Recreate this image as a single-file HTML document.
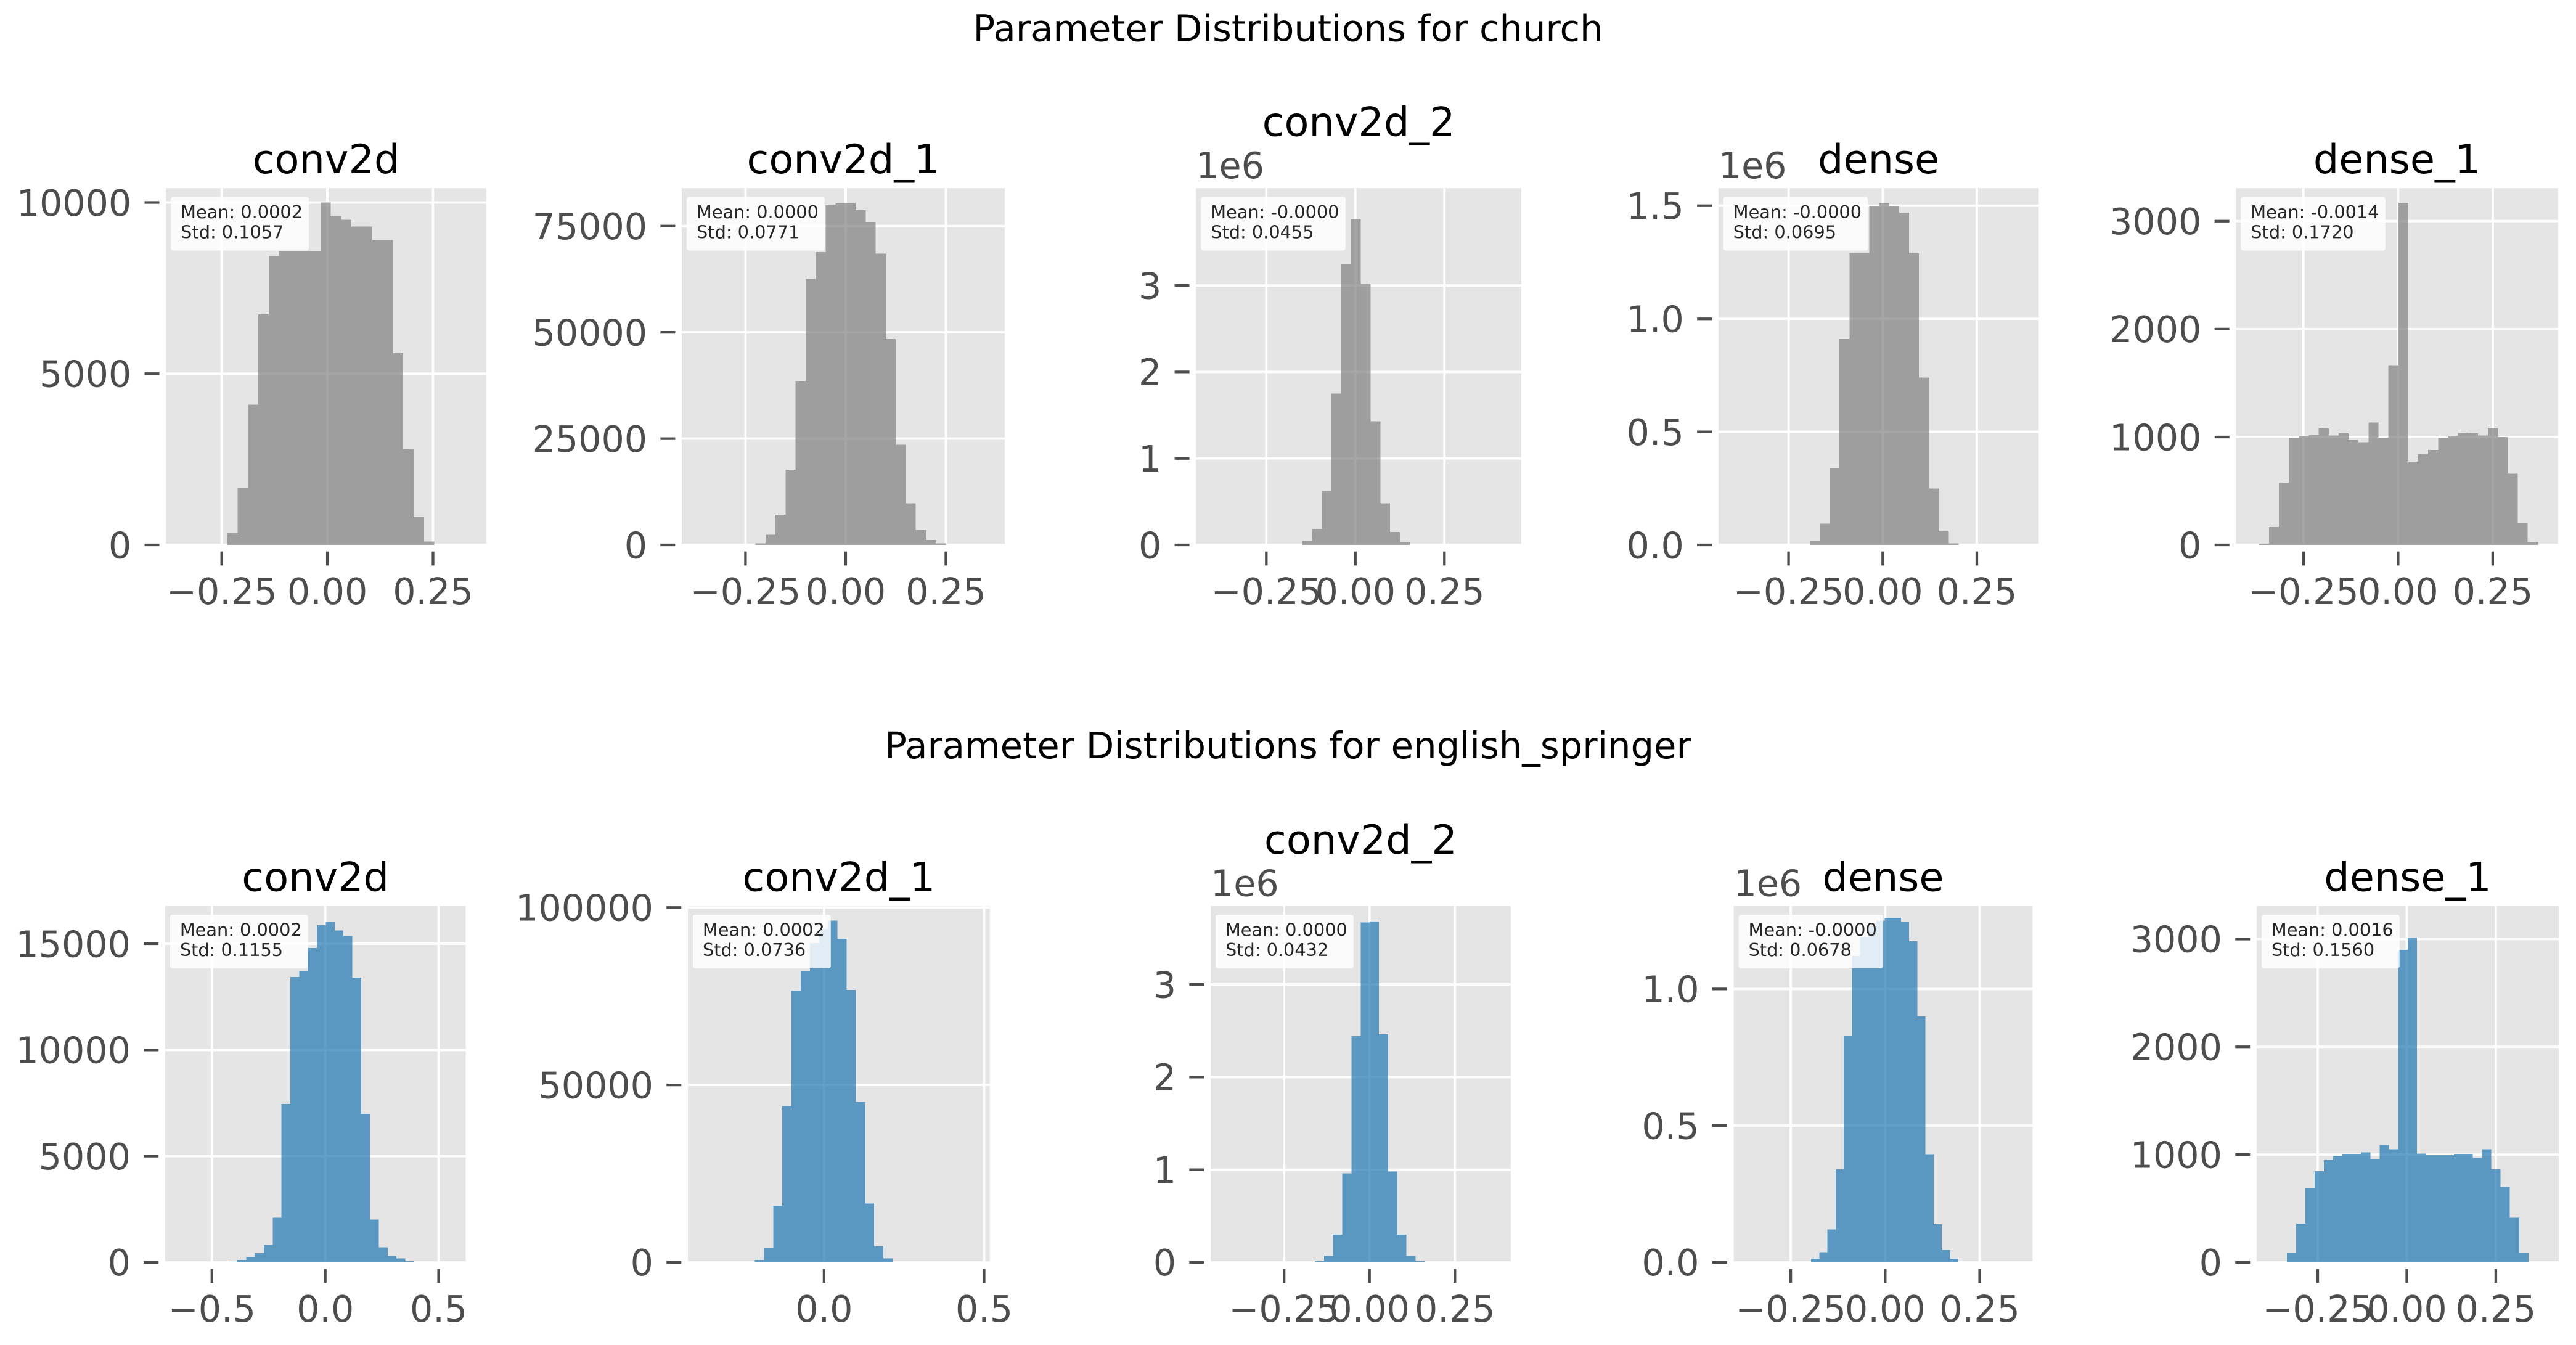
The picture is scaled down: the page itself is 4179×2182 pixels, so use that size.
<!DOCTYPE html>
<html><head><meta charset="utf-8"><title>Parameter Distributions</title>
<style>
html,body{margin:0;padding:0;background:#fff;}
svg{display:block;font-family:"DejaVu Sans","Liberation Sans",sans-serif;}
</style></head>
<body>
<svg id="chart" xmlns="http://www.w3.org/2000/svg" width="4179" height="2182" viewBox="0 0 1568 818.7">
<rect x="0" y="0" width="1568" height="818.7" fill="#ffffff"/>
<text x="784" y="25" text-anchor="middle" font-size="22.2" fill="#000">Parameter Distributions for church</text>
<text x="784" y="461.5" text-anchor="middle" font-size="22.2" fill="#000">Parameter Distributions for english_springer</text>
</svg>
<script>
// ---- data: histogram bin starts, widths and counts ----
const churchConv2dStart = -0.237, churchConv2dWidth = 0.0245;
const churchConv2dCounts = [340,1660,4100,6730,8440,8580,8580,8580,8580,10000,9600,9500,9300,9300,8900,8900,5600,2800,830,100];
const churchConv2d1Start = -0.225, churchConv2d1Width = 0.025;
const churchConv2d1Counts = [400,2400,7100,17700,38600,62600,68900,79900,80300,80300,78700,76000,68500,48400,23600,9800,3500,1200,400];
const churchConv2d2Start = -0.149, churchConv2d2Width = 0.0274;
const churchConv2d2Counts = [45000,180000,620000,1750000,3250000,3770000,3020000,1430000,480000,150000,35000];
const churchDenseStart = -0.194, churchDenseWidth = 0.0264;
const churchDenseCounts = [18000,94000,340000,910000,1290000,1290000,1500000,1510000,1500000,1470000,1290000,740000,250000,60000,7000];
const churchDense1Start = -0.3675, churchDense1Width = 0.0263;
const churchDense1Counts = [13,165,575,995,1005,1020,1080,1015,1035,970,950,1135,995,1665,3170,770,840,880,995,1010,1040,1035,1015,1085,1000,660,205,25];

const springerConv2dStart = -0.427, springerConv2dWidth = 0.039;
const springerConv2dCounts = [25,120,245,430,830,2100,7450,13430,13700,14800,15870,16020,15630,15360,13400,6980,2010,710,305,180,60];
const springerConv2d1Start = -0.2165, springerConv2d1Width = 0.0287;
const springerConv2d1Counts = [700,4200,16000,44000,76500,82000,90000,94000,96300,91200,76800,45200,16600,4500,1100];
const springerConv2d2Start = -0.160, springerConv2d2Width = 0.0268;
const springerConv2d2Counts = [14000,70000,300000,960000,2440000,3670000,3680000,2460000,980000,300000,70000,14000];
const springerDenseStart = -0.196, springerDenseWidth = 0.0216;
const springerDenseCounts = [13000,37000,120000,340000,830000,1120000,1190000,1230000,1250000,1260000,1260000,1245000,1175000,900000,395000,140000,45000,13000];
const springerDense1Start = -0.337, springerDense1Width = 0.0261;
const springerDense1Counts = [90,360,685,845,950,990,1005,1005,1020,960,1090,1050,2900,3010,1010,995,995,995,1005,1005,970,1050,865,700,415,90];

// ---- tick values and labels ----
const xTicksQuarter = [-0.25, 0, 0.25];
const xLabelsQuarter = ["\u22120.25", "0.00", "0.25"];
const xTicksHalf = [-0.5, 0, 0.5];
const xLabelsHalf = ["\u22120.5", "0.0", "0.5"];
const yTicksC1 = [0, 5000, 10000];
const yTicksC1b = [0, 25000, 50000, 75000];
const yTicksC2 = [0, 1e6, 2e6, 3e6];
const yLabelsC2 = ["0", "1", "2", "3"];
const yTicksD1 = [0, 0.5e6, 1e6, 1.5e6];
const yLabelsD1 = ["0.0", "0.5", "1.0", "1.5"];
const yTicksDense1 = [0, 1000, 2000, 3000];
const yTicksS1 = [0, 5000, 10000, 15000];
const yTicksS1b = [0, 50000, 100000];
const yTicksSD = [0, 0.5e6, 1e6];
const yLabelsSD = ["0.0", "0.5", "1.0"];

// ---- stat text ----
const churchMeans = ["0.0002", "0.0000", "-0.0000", "-0.0000", "-0.0014"];
const churchStds = ["0.1057", "0.0771", "0.0455", "0.0695", "0.1720"];
const springerMeans = ["0.0002", "0.0002", "0.0000", "-0.0000", "0.0016"];
const springerStds = ["0.1155", "0.0736", "0.0432", "0.0678", "0.1560"];

const GRAY = "#808080", BLUE = "#1f77b4";
const panels = [
 {row:"church", title:"conv2d", start:churchConv2dStart, width:churchConv2dWidth, counts:churchConv2dCounts, color:GRAY,
  box:[101,296,114.5,331.7], xlim:[-0.382,0.376], ymax:10420, xt:xTicksQuarter, xl:xLabelsQuarter, yt:yTicksC1, yl:null, off:false, raise:false, mean:churchMeans[0], std:churchStds[0]},
 {row:"church", title:"conv2d_1", start:churchConv2d1Start, width:churchConv2d1Width, counts:churchConv2d1Counts, color:GRAY,
  box:[415,611.6,114.5,331.7], xlim:[-0.409,0.397], ymax:83925, xt:xTicksQuarter, xl:xLabelsQuarter, yt:yTicksC1b, yl:null, off:false, raise:false, mean:churchMeans[1], std:churchStds[1]},
 {row:"church", title:"conv2d_2", start:churchConv2d2Start, width:churchConv2d2Width, counts:churchConv2d2Counts, color:GRAY,
  box:[728,926,114.5,331.7], xlim:[-0.4474,0.4658], ymax:4.125e6, xt:xTicksQuarter, xl:xLabelsQuarter, yt:yTicksC2, yl:yLabelsC2, off:true, raise:true, mean:churchMeans[2], std:churchStds[2]},
 {row:"church", title:"dense", start:churchDenseStart, width:churchDenseWidth, counts:churchDenseCounts, color:GRAY,
  box:[1046,1241,114.5,331.7], xlim:[-0.4363,0.4145], ymax:1.578e6, xt:xTicksQuarter, xl:xLabelsQuarter, yt:yTicksD1, yl:yLabelsD1, off:true, raise:false, mean:churchMeans[3], std:churchStds[3]},
 {row:"church", title:"dense_1", start:churchDense1Start, width:churchDense1Width, counts:churchDense1Counts, color:GRAY,
  box:[1361,1557,114.5,331.7], xlim:[-0.4284,0.4223], ymax:3306, xt:xTicksQuarter, xl:xLabelsQuarter, yt:yTicksDense1, yl:null, off:false, raise:false, mean:churchMeans[4], std:churchStds[4]},
 {row:"springer", title:"conv2d", start:springerConv2dStart, width:springerConv2dWidth, counts:springerConv2dCounts, color:BLUE,
  box:[100.5,283.5,551.4,768.4], xlim:[-0.7065,0.6196], ymax:16783, xt:xTicksHalf, xl:xLabelsHalf, yt:yTicksS1, yl:null, off:false, raise:false, mean:springerMeans[0], std:springerStds[0]},
 {row:"springer", title:"conv2d_1", start:springerConv2d1Start, width:springerConv2d1Width, counts:springerConv2d1Counts, color:BLUE,
  box:[418.7,602.5,551.4,768.4], xlim:[-0.4256,0.5179], ymax:100463, xt:[0,0.5], xl:["0.0","0.5"], yt:yTicksS1b, yl:null, off:false, raise:false, mean:springerMeans[1], std:springerStds[1]},
 {row:"springer", title:"conv2d_2", start:springerConv2d2Start, width:springerConv2d2Width, counts:springerConv2d2Counts, color:BLUE,
  box:[736.9,919.6,551.4,768.4], xlim:[-0.465,0.4135], ymax:3.848e6, xt:xTicksQuarter, xl:xLabelsQuarter, yt:yTicksC2, yl:yLabelsC2, off:true, raise:true, mean:springerMeans[2], std:springerStds[2]},
 {row:"springer", title:"dense", start:springerDenseStart, width:springerDenseWidth, counts:springerDenseCounts, color:BLUE,
  box:[1055.3,1237.2,551.4,768.4], xlim:[-0.401,0.390], ymax:1.304e6, xt:xTicksQuarter, xl:xLabelsQuarter, yt:yTicksSD, yl:yLabelsSD, off:true, raise:false, mean:springerMeans[3], std:springerStds[3]},
 {row:"springer", title:"dense_1", start:springerDense1Start, width:springerDense1Width, counts:springerDense1Counts, color:BLUE,
  box:[1373.6,1557.5,551.4,768.4], xlim:[-0.4216,0.4267], ymax:3308, xt:xTicksQuarter, xl:xLabelsQuarter, yt:yTicksDense1, yl:null, off:false, raise:false, mean:springerMeans[4], std:springerStds[4]}
];

const NS = "http://www.w3.org/2000/svg";
const svg = document.getElementById("chart");
function mk(tag, attrs, parent) {
  const e = document.createElementNS(NS, tag);
  for (const k in attrs) e.setAttribute(k, attrs[k]);
  parent.appendChild(e);
  return e;
}
const TICK = "#4d4d4d";

panels.forEach(function(p) {
  const l = p.box[0], r = p.box[1], t = p.box[2], b = p.box[3];
  const X = function(v) { return l + (v - p.xlim[0]) / (p.xlim[1] - p.xlim[0]) * (r - l); };
  const Y = function(v) { return b - v / p.ymax * (b - t); };
  const base = p.row + "-" + p.title.replace(/_/g, "-");
  const g = mk("g", {}, svg);
  
  

  const bg = mk("rect", {x:l, y:t, width:r-l, height:b-t, fill:"#e5e5e5"}, g);
  
  

  p.xt.forEach(function(v) {
    const gl = mk("line", {x1:X(v), x2:X(v), y1:t, y2:b, stroke:"#ffffff", "stroke-width":1.4}, g);
    
    
  });
  p.yt.forEach(function(v) {
    const gl = mk("line", {x1:l, x2:r, y1:Y(v), y2:Y(v), stroke:"#ffffff", "stroke-width":1.4}, g);
    
    
  });

  p.counts.forEach(function(c, i) {
    const x0 = X(p.start + i * p.width), x1 = X(p.start + (i + 1) * p.width);
    const bar = mk("rect", {x:x0, y:Y(c), width:x1 - x0, height:b - Y(c), fill:p.color, "fill-opacity":0.7, "shape-rendering":"crispEdges"}, g);
    
    
  });

  p.xt.forEach(function(v, i) {
    const tk = mk("line", {x1:X(v), x2:X(v), y1:b+4, y2:b+12.5, stroke:TICK, "stroke-width":1.6}, g);
    
    
    const tl = mk("text", {x:X(v), y:b+36, "text-anchor":"middle", "font-size":22, fill:TICK}, g);
    tl.textContent = p.xl[i];
    
    
  });
  p.yt.forEach(function(v, i) {
    const tk = mk("line", {x1:l-13, x2:l-4, y1:Y(v), y2:Y(v), stroke:TICK, "stroke-width":1.6}, g);
    
    
    const tl = mk("text", {x:l-21, y:Y(v)+8, "text-anchor":"end", "font-size":22, fill:TICK}, g);
    tl.textContent = p.yl ? p.yl[i] : String(v);
    
    
  });

  if (p.off) {
    const ot = mk("text", {x:l, y:t-6, "font-size":22, fill:TICK}, g);
    ot.textContent = "1e6";
    
    
  }

  const tt = mk("text", {x:(l+r)/2, y:p.raise ? t-31.7 : t-9, "text-anchor":"middle", "font-size":24.5, fill:"#000"}, g);
  tt.textContent = p.title;
  
  

  const neg = p.mean.charAt(0) === "-";
  const sb = mk("rect", {x:l+3, y:t+5.4, width:neg ? 88 : 84, height:32.6, rx:1.5, fill:"#ffffff", "fill-opacity":0.82}, g);
  
  
  const m = mk("text", {x:l+9, y:t+18.3, "font-size":10.8, fill:"#262626"}, g);
  m.textContent = "Mean: " + p.mean;
  
  
  const s = mk("text", {x:l+9, y:t+30.5, "font-size":10.8, fill:"#262626"}, g);
  s.textContent = "Std: " + p.std;
  
  
});
</script>
</body></html>
